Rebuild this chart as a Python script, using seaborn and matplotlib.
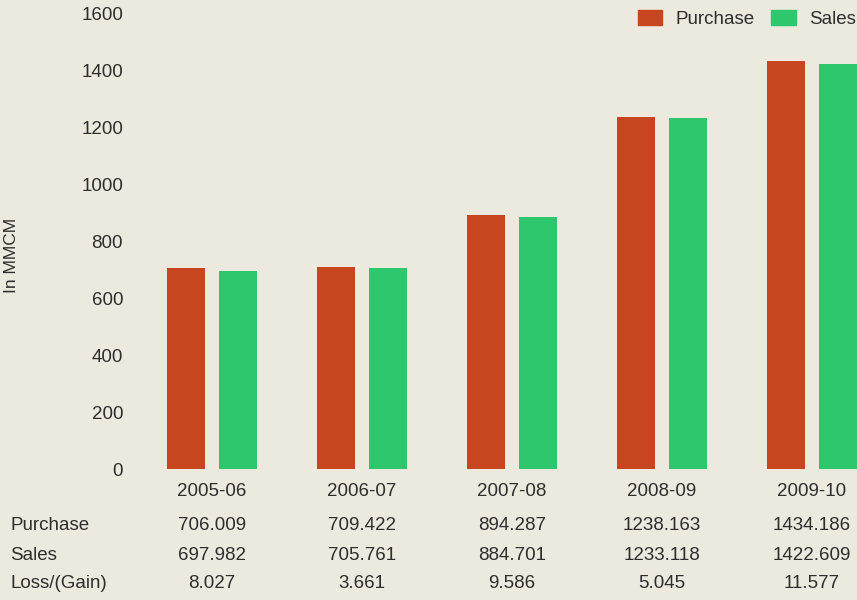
import matplotlib.pyplot as plt
import matplotlib.transforms as mtransforms
import pandas as pd
import seaborn as sns

years = ['2005-06', '2006-07', '2007-08', '2008-09', '2009-10']
purchase = [706.009, 709.422, 894.287, 1238.163, 1434.186]
sales = [697.982, 705.761, 884.701, 1233.118, 1422.609]
loss_gain = ['8.027', '3.661', '9.586', '5.045', '11.577']
y_ticks = [0, 200, 400, 600, 800, 1000, 1200, 1400, 1600]

bg = '#ece9df'
txt = '#2e2e2e'
colors = {'Purchase': '#c8461f', 'Sales': '#2ec76d'}

df = pd.DataFrame({
    'Year': years * 2,
    'Series': ['Purchase'] * len(years) + ['Sales'] * len(years),
    'Value': purchase + sales,
})

sns.set_style('white')
plt.rcParams['font.family'] = ['Liberation Sans', 'DejaVu Sans']
fs = 13.5

fig = plt.figure(figsize=(8.57, 6.0), dpi=100, facecolor=bg)
ax = fig.add_axes([130 / 857, 131 / 600, 727 / 857, 455 / 600])
ax.set_facecolor(bg)

sns.barplot(data=df, x='Year', y='Value', hue='Series', palette=colors,
            width=0.7, gap=0.28, saturation=1, linewidth=0, ax=ax, legend=False)

ax.set_xlim(-0.547, 4.3)
ax.set_ylim(0, 1600)
ax.set_yticks(y_ticks)
ax.set_yticklabels([str(t) for t in y_ticks], fontsize=fs, color=txt)
ax.tick_params(axis='y', length=0, pad=5)
ax.set_xticks([])
ax.set_xlabel('')
ax.set_ylabel('')
sns.despine(ax=ax, left=True, bottom=True)

fig.text(12 / 857, 1 - 255 / 600, 'In MMCM', rotation=90, ha='center', va='center',
         fontsize=12.5, color=txt)

# year labels and data table under the bars
trans = mtransforms.blended_transform_factory(ax.transData, fig.transFigure)
rows = [
    ('Purchase', [f'{v:.3f}' for v in purchase], 526),
    ('Sales', [f'{v:.3f}' for v in sales], 555),
    ('Loss/(Gain)', loss_gain, 583),
]
for i, yr in enumerate(years):
    ax.text(i, 1 - 492 / 600, yr, transform=trans, ha='center', va='center',
            fontsize=fs, color=txt)
for label, vals, ypx in rows:
    fig.text(10 / 857, 1 - ypx / 600, label, ha='left', va='center', fontsize=fs, color=txt)
    for i, v in enumerate(vals):
        ax.text(i, 1 - ypx / 600, v, transform=trans, ha='center', va='center',
                fontsize=fs, color=txt)

# legend
handles = [plt.Rectangle((0, 0), 1, 1, color=colors[k]) for k in ['Purchase', 'Sales']]
fig.legend(handles, ['Purchase', 'Sales'], loc='upper right', bbox_to_anchor=(1.018, 1.012),
           ncol=2, frameon=False, fontsize=fs, handlelength=1.3, handleheight=0.9,
           handletextpad=0.7, columnspacing=0.9, labelcolor=txt)

fig.savefig('out.png', dpi=100, facecolor=bg)
